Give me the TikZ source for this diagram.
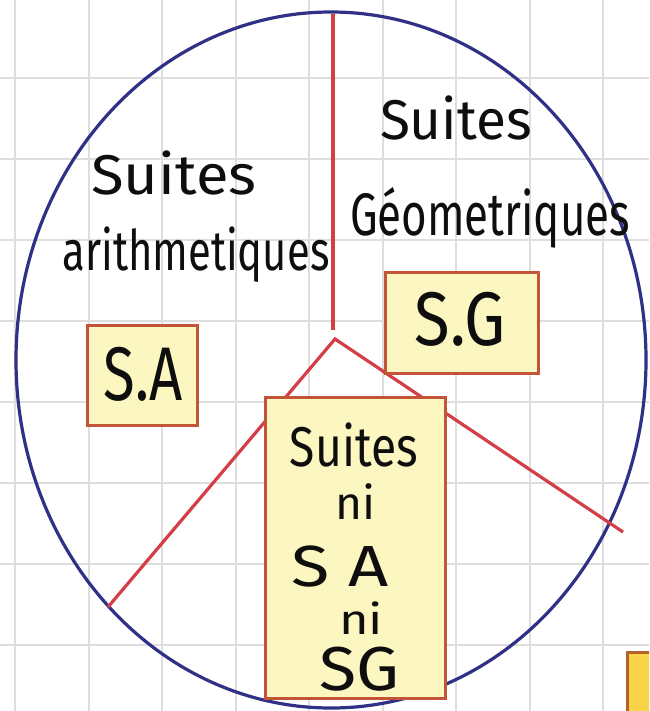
\documentclass[tikz,border=0pt]{standalone}
\usepackage{fontspec}
\usepackage{graphicx}
\setmainfont{Fira Sans}
\definecolor{gridc}{RGB}{222,222,222}
\definecolor{ellc}{RGB}{48,48,135}
\definecolor{redc}{RGB}{212,62,70}
\definecolor{boxfill}{RGB}{252,246,192}
\definecolor{boxdraw}{RGB}{196,84,56}
\definecolor{box2fill}{RGB}{249,212,72}
\definecolor{box2draw}{RGB}{182,96,44}
\definecolor{inkc}{RGB}{14,14,14}
\newcommand{\hw}[3]{\resizebox{#1pt}{\height}{\fontsize{#2}{#2}\selectfont #3}}
\tikzset{
  gridline/.style={draw=gridc, line width=2pt},
  ellline/.style={draw=ellc, line width=3.2pt},
  redline/.style={draw=redc, line width=3.2pt},
  ybox/.style={draw=boxdraw, fill=boxfill, line width=3pt, inner sep=0pt},
  hand/.style={text=inkc, inner sep=0pt, anchor=base}
}
\begin{document}
\begin{tikzpicture}[x=1pt,y=-1pt]
\useasboundingbox (0,0) rectangle (649,711);
\clip (0,0) rectangle (649,711);
\fill[white] (0,0) rectangle (649,711);
% grid
\foreach \gx in {15,88.5,162,235.5,309,382.5,456,529.5,603}
  \draw[gridline] (\gx,0) -- (\gx,711);
\foreach \gy in {-3,78,159,240,321,402,483,564,645}
  \draw[gridline] (0,\gy) -- (649,\gy);
% ellipse
\draw[ellline] (331,360) ellipse [x radius=315, y radius=348];
% red division lines
\coordinate (top) at (333,14);
\coordinate (mid) at (333,330);
\coordinate (apex) at (335,339);
\coordinate (le) at (108,607);
\coordinate (re) at (623,532);
\draw[redline] (top) -- (mid);
\draw[redline, line join=miter] (le) -- (apex) -- (re);
% boxes
\node[ybox, minimum width=110pt, minimum height=100pt] (sa) at (142,375) {};
\node[hand] (satext) at (143,400) {\hw{79}{76}{S.A}};
\node[ybox, minimum width=153pt, minimum height=101pt] (sg) at (461.5,322.5) {};
\node[hand] (sgtext) at (460,345) {\hw{91}{76}{S.G}};
\node[ybox, minimum width=180pt, minimum height=301pt] (ni) at (355,547.5) {};
\node[draw=box2draw, fill=box2fill, line width=3pt, minimum width=60pt, minimum height=90pt, anchor=north west] (other) at (626,651) {};
% texts
\node[hand] (sa1) at (174,195) {\hw{165}{56}{Suites}};
\node[hand] (sa2) at (196,270) {\hw{267}{56}{arithmetiques}};
\node[hand] (sg1) at (456,140) {\hw{152}{56}{Suites}};
\node[hand] (sg2) at (490,236) {\hw{280}{60}{Géometriques}};
\node[hand] (n1) at (354,466) {\hw{128}{56}{Suites}};
\node[hand] (n2) at (355,519) {\hw{40}{46}{ni}};
\node[hand] (n3) at (340,586) {\hw{97}{58}{S A}};
\node[hand] (n4) at (361,634) {\hw{44}{42}{ni}};
\node[hand] (n5) at (359,690) {\hw{80}{62}{SG}};
\end{tikzpicture}
\end{document}
